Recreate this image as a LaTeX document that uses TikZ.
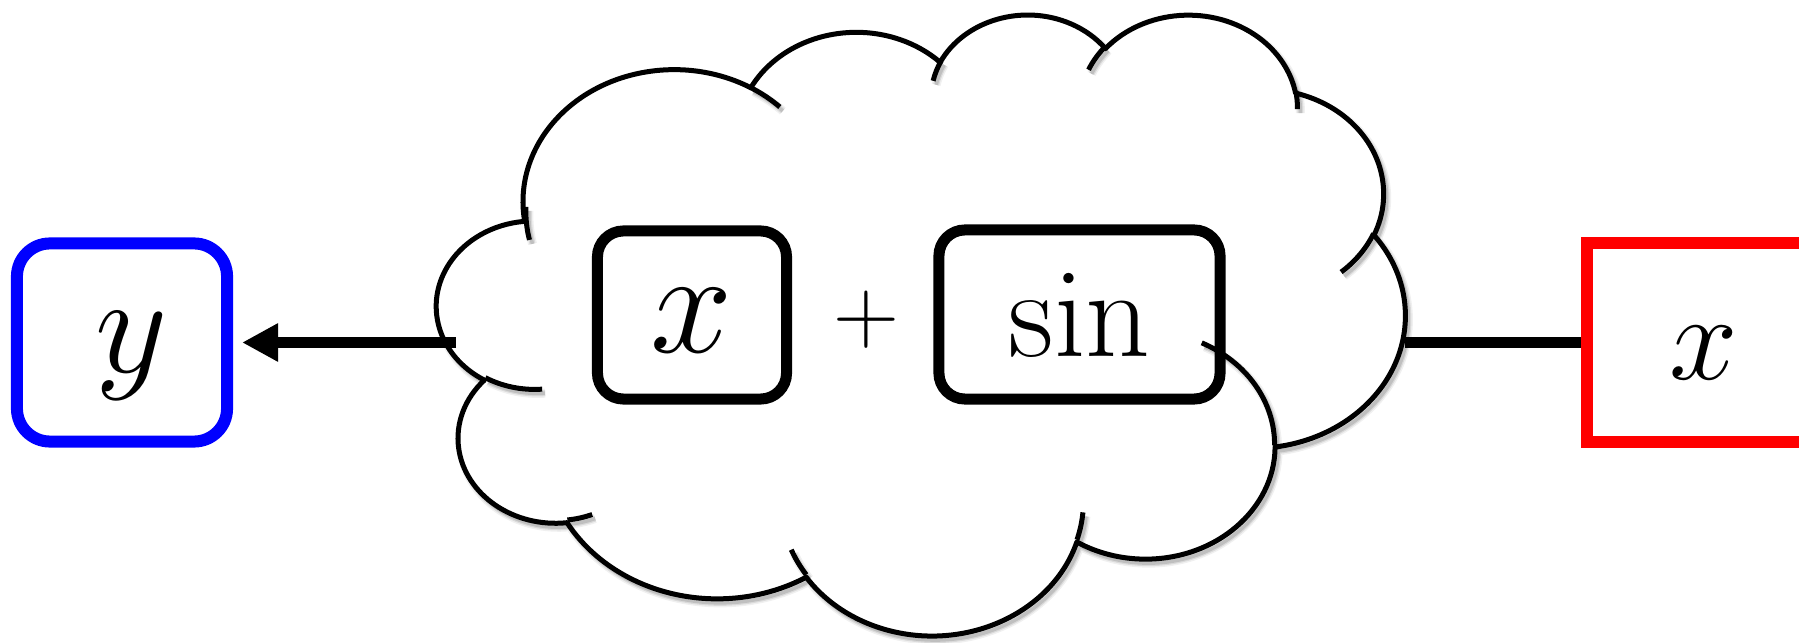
\documentclass[tikz,border=0pt]{standalone}
\usepackage{fix-cm}
\usetikzlibrary{arrows.meta}

% one bump of the cloud: x radius, y radius, start angle, sweep (angles seen from the centre)
\newcommand{\cloudarc}[4]{arc[start angle={parang(#3,#1,#2)},end angle={parang(#3+#4,#1,#2)},x radius=#1,y radius=#2]}

% outline of the cloud
\newcommand{\cloudrim}{(39.00,143.70)
    \cloudarc{67.53}{91.90}{-190.4875}{123.7805}
    \cloudarc{53.33}{72.67}{-144.1024}{89.9452}
    \cloudarc{43.65}{59.45}{-145.8079}{99.7230}
    \cloudarc{48.57}{65.95}{-130.9861}{117.2417}
    \cloudarc{53.33}{72.73}{-78.7089}{109.0269}
    \cloudarc{67.75}{92.20}{-46.2673}{130.2690}
    \cloudarc{57.85}{78.67}{0.6250}{114.0333}
    \cloudarc{67.52}{92.15}{22.4516}{115.1726}
    \cloudarc{77.20}{105.43}{66.2426}{75.7110}
    \cloudarc{43.60}{59.18}{-274.9421}{146.7356}
    \cloudarc{43.45}{59.45}{-246.8285}{152.5189} -- cycle}

% small curls inside the cloud
\newcommand{\cloudcurls}{(46.93,261.77) \cloudarc{43.45}{59.45}{86.7420}{26.4295}
    (69.28,348.99) \cloudarc{43.60}{59.18}{73.6105}{11.4475}
    (164.78,390.90) \cloudarc{67.52}{92.15}{137.6242}{14.0811}
    (288.27,347.51) \cloudarc{67.52}{92.15}{6.4533}{15.9984}
    (341.29,229.54) \cloudarc{57.85}{78.67}{-70.2924}{70.9174}
    (417.98,153.54) \cloudarc{53.33}{72.73}{30.3180}{27.7515}
    (383.24,54.26) \cloudarc{48.57}{65.95}{-13.7443}{14.8589}
    (290.78,39.52) \cloudarc{48.57}{65.95}{-149.1815}{18.1954}
    (221.41,47.20) \cloudarc{43.65}{59.45}{-163.4943}{17.6864}
    (140.00,51.92) \cloudarc{67.53}{91.90}{-66.7070}{12.3194}
    (41.27,157.89) \cloudarc{67.53}{91.90}{163.0493}{19.4249}}

\begin{document}
\begin{tikzpicture}[x=0.01cm,y=-0.01cm,
    declare function={parang(\a,\w,\h)=atan2(\w*sin(\a),\h*cos(\a))-360*round((atan2(\w*sin(\a),\h*cos(\a))-\a)/360);},
    cloudframe/.style={shift={(437,13)},xscale=2.2407,yscale=1.437},
    cloudline/.style={line width=0.05cm,line join=round},
    termbox/.style={draw,line width=0.11cm,rounded corners=0.26cm,inner sep=0pt,minimum height=1.69cm},
    portbox/.style={line width=0.12cm,inner sep=0pt,minimum height=1.98cm},
    wire/.style={line width=0.11cm}]

        \useasboundingbox (0,0) rectangle (1799,643);

        % Shadow of the cloud
        \foreach \w/\o in {0.09/0.06,0.06/0.09,0.035/0.12}
        {
            \begin{scope}[shift={(3,4)},cloudframe]
                \draw[line width=\w cm,opacity=\o] \cloudrim;
            \end{scope}
        }

        % Cloud
        \begin{scope}[cloudframe]
            \draw[cloudline,fill=white] \cloudrim;
        \end{scope}
        \foreach \w/\o in {0.09/0.06,0.06/0.09,0.035/0.12}
        {
            \begin{scope}[shift={(3,4)},cloudframe]
                \draw[line width=\w cm,opacity=\o] \cloudcurls;
            \end{scope}
        }
        \begin{scope}[cloudframe]
            \draw[cloudline] \cloudcurls;
        \end{scope}

        % Input and output
        \node[portbox,draw=blue,rounded corners=0.33cm,minimum width=2.1cm,
              text depth=0pt,font=\fontsize{40}{48}\selectfont] (yport) at (122,342.5) {\hspace*{0.2cm}$y$};
        \node[portbox,draw=red,minimum width=2.34cm,text height=0.73cm,
              font=\fontsize{35}{42}\selectfont] (xport) at (1704,342.5) {$x$};

        % Terms inside the cloud
        \node[termbox,minimum width=1.89cm,minimum height=1.68cm,text height=0.74cm,
              font=\fontsize{42}{50}\selectfont] (xterm) at (692,315) {$x$};
        \node[font=\fontsize{26}{31}\selectfont] (plus) at (866,320) {$+$};
        \node[termbox,minimum width=2.81cm,
              font=\fontsize{36}{43}\selectfont] (sinterm) at (1079.5,314.5) {$\sin$};

        % Wires
        \coordinate (cloudL) at (456,342.5);
        \coordinate (cloudR) at (1405,342.5);
        \draw[wire,-{Triangle[length=0.36cm,width=0.36cm]},shorten >=0.09cm] (cloudL) -- (yport.east);
        \draw[wire] (cloudR) -- (xport.west);

    \end{tikzpicture}
\end{document}
